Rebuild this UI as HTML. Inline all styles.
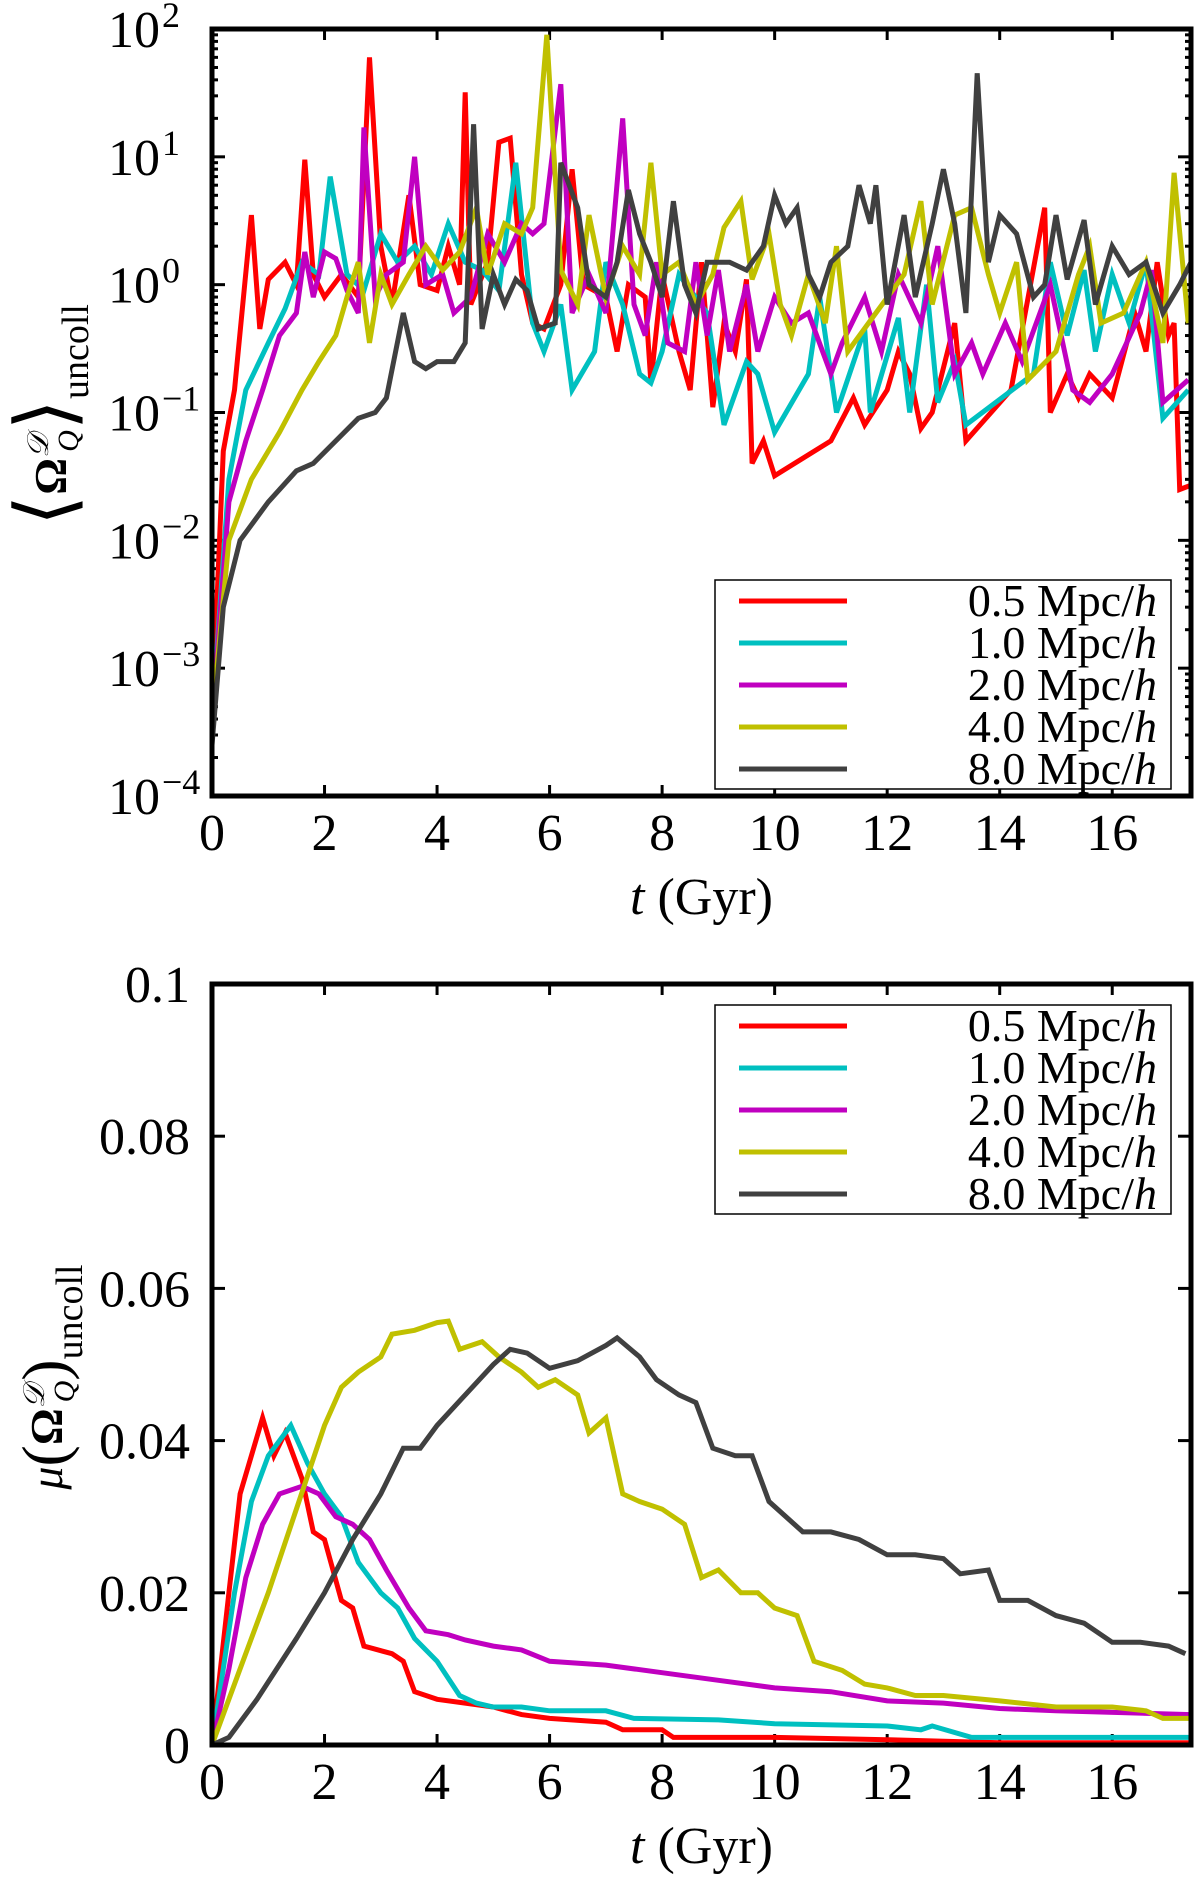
<!DOCTYPE html>
<html><head><meta charset="utf-8">
<style>
html,body{margin:0;padding:0;background:#fff;}
svg{display:block;font-family:"Liberation Serif","Times New Roman",serif;}
</style></head>
<body>
<svg id="fig" width="1200" height="1878" viewBox="0 0 1200 1878" font-family="Liberation Serif, serif"></svg>
<script>
const seriesNames = ["0.5 Mpc/h","1.0 Mpc/h","2.0 Mpc/h","4.0 Mpc/h","8.0 Mpc/h"];
const seriesColors = ["#ff0000","#00c0c0","#c000c0","#c0c000","#404040"];
const xTicks = [0,2,4,6,8,10,12,14,16];
const topYExp = [2,1,0,-1,-2,-3,-4];
const botYTicks = [0,0.02,0.04,0.06,0.08,0.1];
const botYLabels = ["0","0.02","0.04","0.06","0.08","0.1"];

const topRed = [[0,4e-4],[0.2,0.05],[0.4,0.15],[0.7,3.5],[0.85,0.45],[1.0,1.1],[1.3,1.5],[1.5,1.0],[1.65,9.5],[1.8,1.2],[2.0,0.8],[2.3,1.2],[2.6,0.8],[2.8,60],[3.0,2],[3.2,0.7],[3.5,5],[3.7,1],[4.0,0.9],[4.2,2],[4.4,1],[4.5,32],[4.6,0.7],[4.9,1.5],[5.1,13],[5.3,14],[5.5,1.2],[5.7,0.5],[5.9,0.45],[6.2,1.0],[6.4,8],[6.6,1],[7.0,0.8],[7.2,0.3],[7.4,1],[7.7,0.8],[7.8,0.17],[8.0,1.2],[8.3,0.3],[8.5,0.15],[8.7,1.5],[8.9,0.11],[9.1,0.5],[9.3,0.3],[9.5,1.1],[9.6,0.04],[9.8,0.06],[10.0,0.032],[11.0,0.06],[11.4,0.13],[11.6,0.08],[12.0,0.15],[12.2,0.3],[12.4,0.2],[12.6,0.075],[12.8,0.1],[13.2,0.5],[13.4,0.06],[14.2,0.15],[14.8,4],[14.9,0.1],[15.2,0.2],[15.4,0.13],[15.6,0.2],[16.0,0.13],[16.4,0.6],[16.6,0.3],[16.8,1.5],[17.0,0.4],[17.1,0.5],[17.2,0.025],[17.4,0.027]];
const topCyan = [[0,4e-4],[0.3,0.03],[0.6,0.15],[1.0,0.35],[1.3,0.65],[1.6,1.5],[1.9,1.2],[2.1,7],[2.4,1.2],[2.7,0.9],[3.0,2.5],[3.3,1.5],[3.6,2],[3.9,1.2],[4.2,3],[4.5,1.5],[4.8,1.3],[5.1,0.9],[5.4,9],[5.7,0.5],[5.9,0.3],[6.2,0.7],[6.4,0.15],[6.8,0.3],[7.0,1.5],[7.3,0.7],[7.6,0.2],[7.8,0.17],[8.0,0.3],[8.3,1.2],[8.8,0.6],[9.1,0.08],[9.5,0.25],[9.7,0.2],[10.0,0.07],[10.6,0.2],[10.8,0.8],[11.1,0.1],[11.6,0.45],[11.7,0.1],[12.2,0.55],[12.4,0.1],[12.7,1.0],[12.9,0.12],[13.2,0.25],[13.4,0.08],[14.6,0.2],[14.9,1.5],[15.2,0.4],[15.5,1.3],[15.7,0.3],[16.0,1.2],[16.3,0.5],[16.6,1.5],[16.9,0.09],[17.35,0.15]];
const topMagenta = [[0,4e-4],[0.3,0.02],[0.6,0.06],[0.9,0.15],[1.2,0.4],[1.5,0.6],[1.65,1.8],[1.8,0.8],[2.0,1.8],[2.2,1.6],[2.4,0.9],[2.6,0.6],[2.7,17],[2.9,0.8],[3.1,1.2],[3.4,1.5],[3.6,10],[3.8,1],[4.1,1.2],[4.3,0.6],[4.6,0.8],[4.9,2.5],[5.2,1.5],[5.5,3],[5.7,2.5],[5.9,3],[6.2,37],[6.4,0.6],[6.7,1.2],[7.0,0.6],[7.3,20],[7.5,0.7],[7.7,0.4],[7.9,1.5],[8.1,0.35],[8.4,0.3],[8.6,1.5],[8.8,0.4],[9.0,1.3],[9.2,0.3],[9.5,1],[9.7,0.3],[10.0,0.8],[10.3,0.5],[10.6,0.6],[11.0,0.2],[11.2,0.35],[11.6,0.8],[11.9,0.3],[12.2,1.2],[12.6,0.5],[12.9,2],[13.2,0.2],[13.5,0.35],[13.7,0.2],[14.1,0.5],[14.4,0.25],[14.9,1],[15.3,0.15],[15.6,0.12],[16.0,0.2],[16.5,0.6],[16.7,1.3],[16.9,0.12],[17.35,0.18]];
const topYellow = [[0,4e-4],[0.3,0.01],[0.7,0.03],[1.2,0.07],[1.6,0.15],[1.9,0.25],[2.2,0.4],[2.4,0.8],[2.6,1.5],[2.8,0.35],[3.0,1.2],[3.2,0.7],[3.5,1.2],[3.8,2],[4.1,1.3],[4.4,1.8],[4.7,4],[4.9,1.2],[5.2,3],[5.5,2.5],[5.7,4],[5.95,90],[6.2,1.3],[6.5,0.7],[6.7,3.5],[7.0,0.8],[7.3,2],[7.6,1.2],[7.8,9],[8.0,1.2],[8.3,1.5],[8.6,0.7],[8.9,1.2],[9.1,2.8],[9.4,4.5],[9.6,1.1],[9.9,2.5],[10.1,0.7],[10.3,0.4],[10.6,1.2],[10.9,0.5],[11.1,2],[11.3,0.3],[11.8,0.6],[12.3,1.2],[12.6,4.5],[12.8,0.7],[13.2,3.5],[13.5,4],[13.8,1.2],[14.0,0.6],[14.3,1.5],[14.5,0.18],[15.0,0.3],[15.4,1.2],[15.6,2],[15.8,0.5],[16.2,0.6],[16.6,1.5],[16.9,0.35],[17.1,7.5],[17.35,0.5]];
const topGray = [[0,2.5e-4],[0.2,0.003],[0.5,0.01],[1.0,0.02],[1.5,0.035],[1.8,0.04],[2.2,0.06],[2.6,0.09],[2.9,0.1],[3.1,0.13],[3.4,0.6],[3.6,0.25],[3.8,0.22],[4.0,0.25],[4.3,0.25],[4.5,0.35],[4.65,18],[4.8,0.45],[5.0,1.2],[5.2,0.7],[5.4,1.1],[5.6,0.9],[5.8,0.45],[6.1,0.5],[6.2,9],[6.5,4],[6.7,1.0],[7.0,0.8],[7.2,1.5],[7.4,5.5],[7.6,2.5],[7.8,1.5],[8.0,0.8],[8.2,4.5],[8.4,1.0],[8.6,0.6],[8.8,1.5],[9.2,1.5],[9.5,1.3],[9.8,2],[10.0,5],[10.2,3],[10.4,4],[10.6,1.2],[10.8,0.8],[11.0,1.5],[11.3,2],[11.5,6],[11.7,3],[11.8,6],[12.0,0.7],[12.3,3.5],[12.5,0.8],[12.8,3],[13.0,8],[13.2,3],[13.4,0.6],[13.6,45],[13.8,1.5],[14.0,3.5],[14.3,2.5],[14.6,0.8],[14.8,1],[15.0,3.5],[15.2,1.1],[15.5,3.2],[15.7,0.7],[16.0,2],[16.3,1.2],[16.6,1.5],[16.9,0.6],[17.2,1],[17.4,1.5]];

const botRed = [[0,0],[0.3,0.02],[0.5,0.033],[0.9,0.043],[1.1,0.038],[1.3,0.041],[1.6,0.035],[1.8,0.028],[2.0,0.027],[2.3,0.019],[2.5,0.018],[2.7,0.013],[3.2,0.012],[3.4,0.011],[3.6,0.007],[4.0,0.006],[4.5,0.0055],[5.0,0.005],[5.5,0.004],[6.0,0.0035],[7.0,0.003],[7.3,0.002],[8.0,0.002],[8.2,0.001],[10,0.001],[12,0.0007],[14,0.0003],[17.4,0.0003]];
const botCyan = [[0,0],[0.4,0.02],[0.7,0.032],[1.0,0.038],[1.4,0.042],[1.7,0.037],[2.0,0.033],[2.3,0.03],[2.6,0.024],[3.0,0.02],[3.3,0.018],[3.6,0.014],[4.0,0.011],[4.4,0.0065],[4.7,0.0055],[5.0,0.005],[5.5,0.005],[6.0,0.0045],[7.0,0.0045],[7.5,0.0035],[9.0,0.0033],[10,0.0028],[12,0.0025],[12.6,0.002],[12.8,0.0025],[13.5,0.001],[17.4,0.001]];
const botMagenta = [[0,0],[0.3,0.01],[0.6,0.022],[0.9,0.029],[1.2,0.033],[1.6,0.034],[1.9,0.033],[2.2,0.03],[2.5,0.029],[2.8,0.027],[3.1,0.023],[3.5,0.018],[3.8,0.015],[4.2,0.0145],[4.5,0.0138],[5.0,0.013],[5.5,0.0125],[6.0,0.011],[7.0,0.0105],[8.0,0.0095],[9.0,0.0085],[10,0.0075],[11,0.007],[12,0.0058],[13,0.0055],[14,0.0048],[15,0.0045],[17.4,0.004]];
const botYellow = [[0,0],[0.5,0.01],[1.0,0.02],[1.5,0.031],[2.0,0.042],[2.3,0.047],[2.6,0.049],[3.0,0.051],[3.2,0.054],[3.6,0.0545],[4.0,0.0555],[4.2,0.0557],[4.4,0.052],[4.8,0.053],[5.1,0.051],[5.5,0.049],[5.8,0.047],[6.1,0.048],[6.5,0.046],[6.7,0.041],[7.0,0.043],[7.3,0.033],[7.6,0.032],[8.0,0.031],[8.4,0.029],[8.7,0.022],[9.0,0.023],[9.4,0.02],[9.7,0.02],[10.0,0.018],[10.4,0.017],[10.7,0.011],[11.2,0.0098],[11.6,0.008],[12.0,0.0075],[12.5,0.0065],[13.0,0.0065],[14,0.0058],[15,0.005],[16,0.005],[16.6,0.0045],[16.9,0.0035],[17.4,0.0035]];
const botGray = [[0,0],[0.3,0.001],[0.8,0.006],[1.5,0.014],[2.0,0.02],[2.5,0.027],[3.0,0.033],[3.4,0.039],[3.7,0.039],[4.0,0.042],[4.5,0.046],[5.0,0.05],[5.3,0.052],[5.6,0.0515],[6.0,0.0495],[6.5,0.0505],[7.0,0.0525],[7.2,0.0535],[7.6,0.051],[7.9,0.048],[8.3,0.046],[8.6,0.045],[8.9,0.039],[9.3,0.038],[9.6,0.038],[9.9,0.032],[10.5,0.028],[11.0,0.028],[11.5,0.027],[12.0,0.025],[12.5,0.025],[13.0,0.0245],[13.3,0.0225],[13.8,0.023],[14.0,0.019],[14.5,0.019],[15.0,0.017],[15.5,0.016],[16.0,0.0135],[16.5,0.0135],[17.0,0.013],[17.3,0.012]];

const topSeries = [topRed, topCyan, topMagenta, topYellow, topGray];
const botSeries = [botRed, botCyan, botMagenta, botYellow, botGray];

const NS = "http://www.w3.org/2000/svg";
const svg = document.getElementById("fig");
function mk(tag, attrs, parent) {
  const e = document.createElementNS(NS, tag);
  for (const k in attrs) e.setAttribute(k, attrs[k]);
  (parent || svg).appendChild(e);
  return e;
}
const L = 212, R = 1191, XMAX = 17.4;
function xs(t) { return L + (R - L) * t / XMAX; }

function drawPanel(top, bottom, ys, isLog, series, legTop, panelName) {
  const g = mk("g", {});
  
  
  const clipId = panelName + "-clip";
  const cp = mk("clipPath", {id: clipId}, g);
  mk("rect", {x: L, y: top, width: R - L, height: bottom - top}, cp);
  const tk = mk("g", {stroke: "#000", "stroke-width": 3}, g);
  
  
  xTicks.forEach(v => {
    const x = xs(v);
    mk("line", {x1: x, y1: bottom, x2: x, y2: bottom - 11}, tk);
    mk("line", {x1: x, y1: top, x2: x, y2: top + 11}, tk);
    const t = mk("text", {x: x, y: bottom + 54, "font-size": 52, "text-anchor": "middle"}, g);
    t.textContent = v;
    
    
  });
  if (isLog) {
    topYExp.forEach(e => {
      const y = ys(Math.pow(10, e));
      mk("line", {x1: L, y1: y, x2: L + 13, y2: y}, tk);
      mk("line", {x1: R, y1: y, x2: R - 13, y2: y}, tk);
      if (e > -4) for (let m = 2; m <= 9; m++) {
        const ym = ys(m * Math.pow(10, e - 1));
        mk("line", {x1: L, y1: ym, x2: L + 6, y2: ym}, tk);
        mk("line", {x1: R, y1: ym, x2: R - 6, y2: ym}, tk);
      }
      const t = mk("text", {x: 160, y: y + 18, "font-size": 52, "text-anchor": "end"}, g);
      t.textContent = "10";
      
      
      const s = mk("text", {x: 162, y: y - 2, "font-size": 36, "text-anchor": "start"}, g);
      s.textContent = (e < 0 ? "\u2212" : "") + Math.abs(e);
      
      
    });
  } else {
    botYTicks.forEach((v, i) => {
      const y = ys(v);
      mk("line", {x1: L, y1: y, x2: L + 13, y2: y}, tk);
      mk("line", {x1: R, y1: y, x2: R - 13, y2: y}, tk);
      const t = mk("text", {x: 190, y: y + 18, "font-size": 52, "text-anchor": "end"}, g);
      t.textContent = botYLabels[i];
      
      
    });
  }
  const sg = mk("g", {"clip-path": "url(#" + clipId + ")"}, g);
  series.forEach((s, i) => {
    const d = s.map((p, j) => (j ? "L" : "M") + xs(p[0]).toFixed(1) + "," + ys(p[1]).toFixed(1)).join("");
    const path = mk("path", {d: d, fill: "none", stroke: seriesColors[i], "stroke-width": 5, "stroke-linejoin": "miter"}, sg);
    
    
  });
  const lg = mk("g", {}, g);
  
  
  mk("rect", {x: 715, y: legTop, width: 456, height: 209, fill: "#fff", stroke: "#000", "stroke-width": 1.5}, lg);
  seriesNames.forEach((n, i) => {
    const y = legTop + 21 + i * 42;
    const ln = mk("line", {x1: 739, y1: y, x2: 847, y2: y, stroke: seriesColors[i], "stroke-width": 5}, lg);
    
    
    const t = mk("text", {x: 1157, y: y + 15, "font-size": 46, "text-anchor": "end"}, lg);
    t.innerHTML = n.replace("/h", "/<tspan font-style='italic'>h</tspan>");
    
    
  });
  const fr = mk("rect", {x: L, y: top, width: R - L, height: bottom - top, fill: "none", stroke: "#000", "stroke-width": 5}, g);
  
  
  const xt = mk("text", {x: (L + R) / 2, y: bottom + 118, "font-size": 52, "text-anchor": "middle"}, g);
  xt.innerHTML = "<tspan font-style='italic'>t</tspan> (Gyr)";
  
  
}

const T1 = 29, B1 = 796, T2 = 984, B2 = 1745;
function ysTop(v) { return B1 - (B1 - T1) * (Math.log10(v) + 4) / 6; }
function ysBot(v) { return B2 - (B2 - T2) * v / 0.1; }
drawPanel(T1, B1, ysTop, true, topSeries, 580, "top-panel");
drawPanel(T2, B2, ysBot, false, botSeries, 1005, "bottom-panel");

const yt1 = mk("text", {transform: "translate(66,415) rotate(-90)", "font-size": 46, "text-anchor": "middle"});
yt1.innerHTML = "<tspan font-size='80' dy='6'>\u27E8</tspan><tspan font-weight='bold' dy='-6'>\u03A9</tspan><tspan font-style='italic' font-size='30' dy='-18'>\uD835\uDC9F</tspan><tspan font-style='italic' font-size='30' dx='-18' dy='30'>Q</tspan><tspan font-size='80' dy='-6'>\u27E9</tspan><tspan font-size='38' dy='16'>uncoll</tspan>";


const yt2 = mk("text", {transform: "translate(62,1377) rotate(-90)", "font-size": 46, "text-anchor": "middle"});
yt2.innerHTML = "<tspan font-style='italic'>\u03BC</tspan><tspan font-size='64' dy='4'>(</tspan><tspan font-weight='bold' dy='-4'>\u03A9</tspan><tspan font-style='italic' font-size='30' dy='-18'>\uD835\uDC9F</tspan><tspan font-style='italic' font-size='30' dx='-18' dy='30'>Q</tspan><tspan font-size='64' dy='-8'>)</tspan><tspan font-size='38' dy='16'>uncoll</tspan>";


</script>
</body></html>
